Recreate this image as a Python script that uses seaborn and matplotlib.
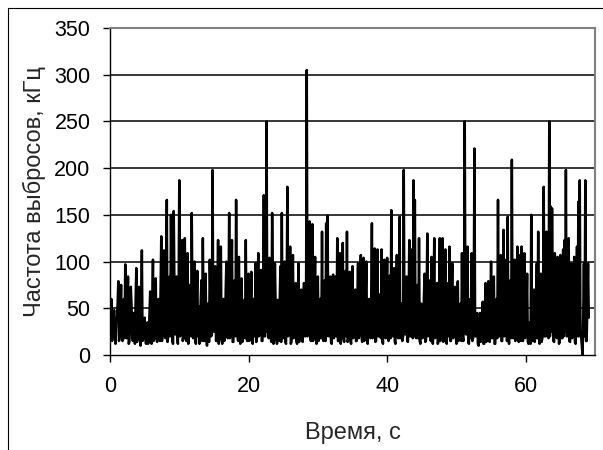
import numpy as np
import pandas as pd
import seaborn as sns
import matplotlib.pyplot as plt
from matplotlib.lines import Line2D

# частота выбросов, кГц: основные отсчёты через 0.2 с (t = 0.0, 0.2, ...)
rate_00_10 = [55, 60, 25, 48, 12, 40, 79, 20, 75, 15, 60, 97, 18, 84, 14, 73, 22, 45, 12, 93,
              20, 73, 10, 112, 18, 40, 12, 35, 15, 68, 12, 102, 20, 82, 14, 60, 15, 127, 25, 112,
              18, 166, 20, 84, 150, 15, 154, 22, 84, 12]
rate_10_20 = [187, 30, 123, 20, 125, 15, 109, 25, 60, 152, 18, 100, 12, 90, 52, 20, 80, 125, 15, 87,
              10, 50, 102, 20, 198, 25, 95, 15, 123, 20, 116, 12, 60, 20, 100, 18, 152, 25, 123, 14,
              80, 166, 20, 105, 12, 82, 18, 59, 123, 15]
rate_20_30 = [87, 20, 89, 12, 60, 98, 18, 109, 25, 91, 15, 171, 20, 250, 30, 104, 18, 152, 12, 98,
              20, 59, 15, 95, 152, 18, 100, 12, 180, 25, 116, 15, 107, 20, 77, 12, 98, 22, 70, 14,
              77, 20, 305, 25, 143, 15, 140, 20, 105, 12]
rate_30_40 = [84, 18, 60, 132, 15, 80, 141, 149, 20, 84, 12, 86, 20, 84, 125, 15, 109, 22, 120, 14,
              90, 132, 18, 89, 12, 95, 20, 70, 15, 98, 25, 107, 14, 104, 20, 100, 12, 60, 18, 141,
              25, 114, 15, 113, 20, 65, 113, 12, 102, 18]
rate_40_50 = [104, 15, 85, 155, 20, 93, 12, 107, 18, 148, 40, 15, 198, 22, 84, 14, 123, 20, 113, 187,
              166, 18, 75, 125, 12, 52, 20, 87, 15, 130, 25, 80, 105, 12, 125, 20, 77, 14, 125, 18,
              125, 22, 113, 12, 77, 116, 15, 98, 20, 73]
rate_50_60 = [12, 79, 18, 55, 109, 15, 250, 22, 116, 12, 60, 109, 18, 221, 20, 45, 10, 45, 15, 57,
              12, 77, 20, 79, 14, 100, 18, 84, 12, 60, 166, 20, 107, 15, 134, 22, 102, 148, 12, 80,
              209, 18, 102, 20, 116, 14, 107, 116, 15, 109]
rate_60_69 = [20, 87, 12, 35, 150, 15, 70, 20, 98, 132, 12, 87, 18, 180, 40, 132, 20, 250, 159, 157,
              15, 109, 22, 105, 12, 107, 18, 113, 123, 198, 20, 125, 14, 98, 40, 105, 12, 116, 164, 187,
              20, 0, 98, 187, 15, 98]

# промежуточные отсчёты (t = 0.1, 0.3, ...)
mid_00_10 = [30, 15, 40, 20, 35, 55, 15, 45, 22, 50, 18, 40, 60, 12, 35, 55, 15, 30, 60, 14,
             45, 20, 50, 15, 30, 18, 25, 12, 45, 20, 55, 15, 65, 18, 50, 25, 70, 15, 60, 20,
             85, 14, 60, 20, 75, 12, 70, 40, 18, 60]
mid_10_20 = [20, 70, 15, 80, 18, 60, 12, 75, 20, 50, 65, 15, 55, 20, 12, 60, 15, 45, 70, 20,
             55, 14, 60, 22, 40, 70, 15, 65, 12, 80, 18, 55, 15, 70, 20, 60, 18, 75, 14, 55,
             20, 65, 15, 50, 70, 14, 55, 18, 20, 60]
mid_20_30 = [15, 55, 18, 60, 20, 14, 70, 20, 55, 15, 60, 20, 80, 25, 18, 60, 14, 70, 18, 55,
             12, 40, 60, 14, 20, 65, 15, 60, 20, 70, 12, 60, 18, 65, 15, 50, 14, 60, 18, 45,
             20, 65, 20, 70, 18, 60, 15, 65, 20, 55]
mid_30_40 = [15, 60, 18, 20, 65, 15, 20, 25, 55, 14, 60, 18, 55, 20, 15, 70, 12, 60, 18, 65,
             20, 14, 60, 15, 70, 18, 55, 15, 60, 18, 65, 20, 60, 15, 65, 18, 55, 20, 60, 18,
             70, 14, 60, 20, 55, 18, 15, 65, 20, 60]
mid_40_50 = [20, 60, 18, 25, 60, 14, 65, 20, 70, 18, 55, 20, 25, 65, 15, 60, 20, 70, 18, 20,
             20, 60, 18, 15, 55, 18, 60, 14, 65, 20, 70, 15, 20, 60, 18, 65, 12, 60, 15, 70,
             14, 65, 18, 55, 20, 15, 60, 18, 65, 20]
mid_50_60 = [55, 15, 40, 15, 20, 60, 25, 65, 15, 40, 18, 15, 60, 20, 35, 12, 30, 14, 35, 12,
             40, 14, 45, 15, 50, 18, 55, 12, 40, 18, 20, 65, 15, 60, 20, 65, 15, 20, 60, 18,
             25, 60, 15, 65, 18, 60, 15, 20, 65, 18]
mid_60_69 = [45, 15, 30, 12, 20, 55, 14, 50, 18, 20, 60, 14, 65, 20, 20, 60, 18, 20, 25, 60,
             14, 65, 18, 60, 14, 65, 18, 20, 25, 20, 60, 15, 65, 18, 55, 14, 60, 20, 20, 25,
             10, 40, 20, 15, 60, 40]

main = rate_00_10 + rate_10_20 + rate_20_30 + rate_30_40 + rate_40_50 + rate_50_60 + rate_60_69
mids = mid_00_10 + mid_10_20 + mid_20_30 + mid_30_40 + mid_40_50 + mid_50_60 + mid_60_69
rate = np.column_stack((main, mids)).ravel()
time = np.round(np.arange(len(rate)) * 0.1, 1)
df = pd.DataFrame({'time': time, 'rate': rate})

x_ticks = [0, 20, 40, 60]
y_ticks = [0, 50, 100, 150, 200, 250, 300, 350]

sns.set_style('white')
plt.rcParams['font.family'] = ['Liberation Sans', 'DejaVu Sans']

fig = plt.figure(figsize=(6.03, 4.5), dpi=100)
ax = fig.add_axes([110 / 603, 95 / 450, 485 / 603, 327 / 450])

# сетка только по горизонтали, как в Excel
for y in y_ticks[1:-1]:
    ax.axhline(y, color='black', linewidth=1.1, zorder=1)

sns.lineplot(data=df, x='time', y='rate', ax=ax, color='black', linewidth=1.8,
             estimator=None, sort=False, zorder=2)

ax.set_xlim(0, 70)
ax.set_ylim(0, 350)
ax.set_xticks(x_ticks)
ax.set_yticks(y_ticks)
ax.tick_params(axis='both', direction='out', length=5, width=1, color='black',
               labelsize=15.5, labelcolor='black')
ax.tick_params(axis='x', pad=10)
ax.tick_params(axis='y', pad=9)
ax.tick_params(axis='both', which='both', left=True, bottom=True)

for side in ['top', 'right']:
    ax.spines[side].set_color('#808080')
    ax.spines[side].set_linewidth(1.5)
for side in ['left', 'bottom']:
    ax.spines[side].set_color('black')
    ax.spines[side].set_linewidth(1.0)

ax.set_xlabel('Время, с', fontsize=17, labelpad=18)
ax.set_ylabel('Частота выбросов, кГц', fontsize=17, labelpad=6)

# рамка области диаграммы
fig.add_artist(Line2D([8 / 603, 8 / 603], [0, 442 / 450], color='black', linewidth=0.8))
fig.add_artist(Line2D([8 / 603, 1], [442 / 450, 442 / 450], color='black', linewidth=0.8))

fig.savefig('out.png', dpi=100)
